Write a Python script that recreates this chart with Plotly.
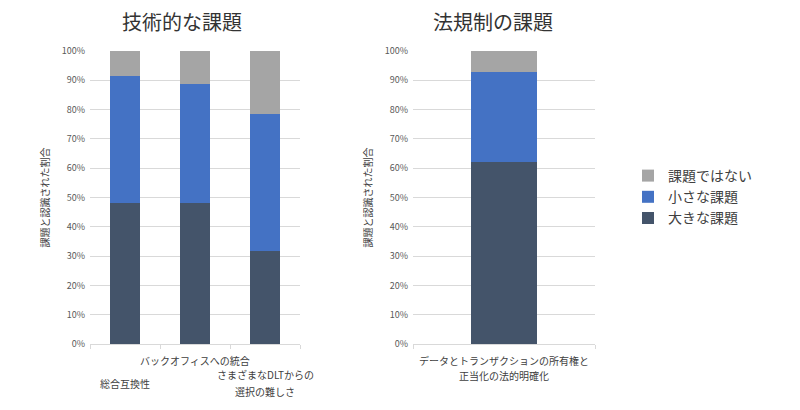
import plotly.graph_objects as go

# --- data (percent of respondents) ---
tech_categories = ["総合互換性", "バックオフィスへの統合", "さまざまなDLTからの<br>選択の難しさ"]
tech_major = [48.0, 48.0, 31.7]
tech_minor = [43.5, 40.8, 46.9]
tech_none = [8.5, 11.2, 21.4]

legal_categories = ["データとトランザクションの所有権と<br>正当化の法的明確化"]
legal_major = [62.0]
legal_minor = [31.0]
legal_none = [7.0]

series_names = ["大きな課題", "小さな課題", "課題ではない"]
series_colors = ["#44546A", "#4472C4", "#A5A5A5"]

y_ticks = list(range(0, 101, 10))
y_ticktext = [f"{v}%" for v in y_ticks]

FONT = "Noto Sans CJK JP, Noto Sans, sans-serif"
# the page body adds an 8px margin, so the figure is drawn 8px smaller and
# every pixel position below is given in screenshot coordinates
OFF = 8
W, H = 800 - OFF, 410 - OFF


def px_x(v):
    return (v - OFF) / W


def px_y(v):
    return 1 - (v - OFF) / H


fig = go.Figure()

tech_series = [tech_major, tech_minor, tech_none]
legal_series = [legal_major, legal_minor, legal_none]
tech_x = list(range(len(tech_categories)))
legal_x = list(range(len(legal_categories)))

for name, color, vals in zip(series_names, series_colors, tech_series):
    fig.add_trace(go.Bar(
        x=tech_x, y=vals, name=name, marker_color=color,
        marker_line_width=0, width=0.42, xaxis="x", yaxis="y",
        legendgroup=name, showlegend=True,
    ))
for name, color, vals in zip(series_names, series_colors, legal_series):
    fig.add_trace(go.Bar(
        x=legal_x, y=vals, name=name, marker_color=color,
        marker_line_width=0, width=0.36, xaxis="x2", yaxis="y2",
        legendgroup=name, showlegend=False,
    ))

yaxis_common = dict(
    range=[0, 100], tickvals=y_ticks, ticktext=y_ticktext,
    tickfont=dict(size=9, color="#595959", family=FONT),
    showgrid=True, gridcolor="#D9D9D9", gridwidth=1,
    zeroline=False, showline=False, ticks="", ticklabelstandoff=4,
    domain=[px_y(344), px_y(51)], fixedrange=True, automargin=False,
    title=dict(text="課題と認識された割合", font=dict(size=10, color="#404040", family=FONT), standoff=10),
)
xaxis_common = dict(
    type="linear", showgrid=False, zeroline=False,
    showline=True, linecolor="#D9D9D9", linewidth=1,
    ticks="outside", ticklen=4, tickcolor="#D9D9D9",
    showticklabels=False, automargin=False,
)

fig.update_layout(
    width=W, height=H,
    margin=dict(l=0, r=0, t=0, b=0, autoexpand=False),
    paper_bgcolor="white", plot_bgcolor="white",
    barmode="stack",
    font=dict(family=FONT, color="#404040"),
    xaxis=dict(xaxis_common, domain=[px_x(90), px_x(300)], range=[-0.5, 2.5],
               tickvals=[-0.5, 0.5, 1.5, 2.5]),
    yaxis=dict(yaxis_common, anchor="x"),
    xaxis2=dict(xaxis_common, domain=[px_x(413), px_x(595)], range=[-0.5, 0.5],
                tickvals=[-0.5, 0.5], anchor="y2"),
    yaxis2=dict(yaxis_common, anchor="x2"),
    legend=dict(
        x=px_x(628), y=px_y(160), xanchor="left", yanchor="top",
        traceorder="reversed", font=dict(size=14, color="#404040", family=FONT),
        itemwidth=30, tracegroupgap=0, bgcolor="rgba(0,0,0,0)",
    ),
    showlegend=True,
)

# chart titles
for text, cx in [("技術的な課題", 182), ("法規制の課題", 493)]:
    fig.add_annotation(text=text, x=px_x(cx), y=px_y(22), xref="paper", yref="paper",
                       xanchor="center", yanchor="middle", showarrow=False,
                       font=dict(size=20, color="#333333", family=FONT))


def add_category_label(xi, xref, label, top_px, line_px):
    # one annotation per text line so the line spacing matches the original
    for k, line in enumerate(label.split("<br>")):
        fig.add_annotation(text=line, x=xi, xref=xref, y=px_y(top_px + k * line_px), yref="paper",
                           xanchor="center", yanchor="middle", showarrow=False,
                           font=dict(size=10, color="#404040", family=FONT))


# staggered category labels for the technical chart
tech_label_top = [383, 360, 374]
for xi, label, top in zip(tech_x, tech_categories, tech_label_top):
    add_category_label(xi, "x", label, top, 17)
for xi, label in zip(legal_x, legal_categories):
    add_category_label(xi, "x2", label, 360, 15)

fig.write_html("out.html")
